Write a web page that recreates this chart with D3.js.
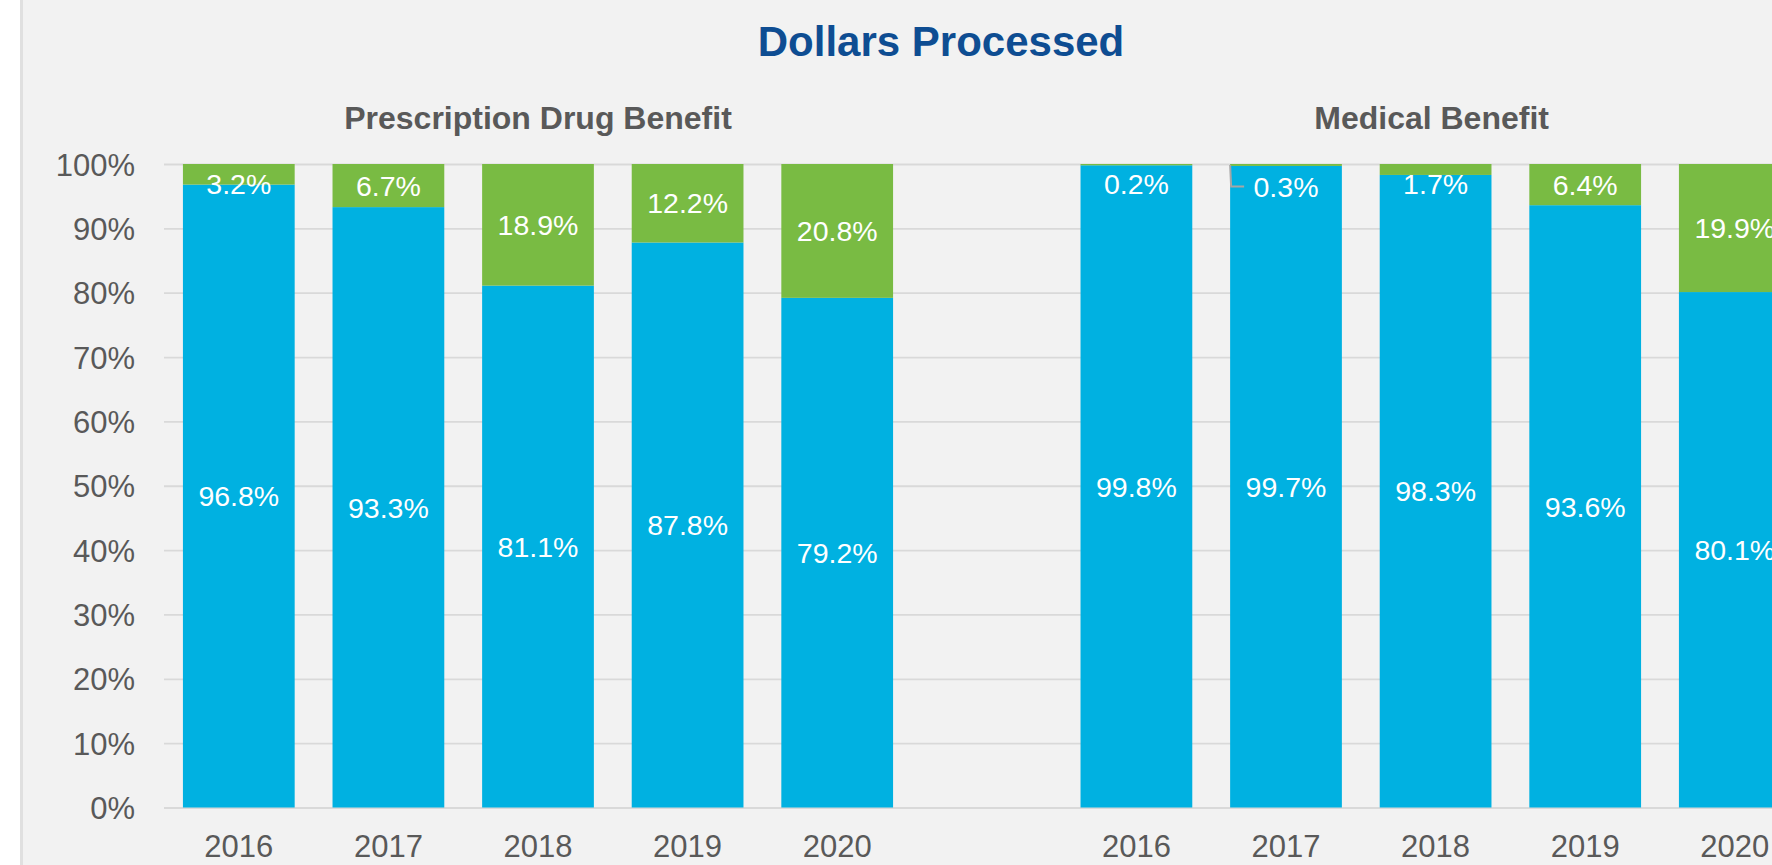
<!DOCTYPE html>
<html>
<head>
<meta charset="utf-8">
<script src="https://cdn.jsdelivr.net/npm/d3@7/dist/d3.min.js"></script>
<style>
  body { margin: 0; background: #fff; }
  text { font-family: "Liberation Sans", Arial, sans-serif; }
</style>
</head>
<body>
<div id="chart"></div>
<script>
// data
var years = ['2016', '2017', '2018', '2019', '2020'];
var groups = ['Prescription Drug Benefit', 'Medical Benefit'];
var rxBlue = [96.8, 93.3, 81.1, 87.8, 79.2];
var rxGreen = [3.2, 6.7, 18.9, 12.2, 20.8];
var medBlue = [99.8, 99.7, 98.3, 93.6, 80.1];
var medGreen = [0.2, 0.3, 1.7, 6.4, 19.9];
var yTicks = [0, 10, 20, 30, 40, 50, 60, 70, 80, 90, 100];

var width = 1772, height = 865;
var blue = '#00b1e1', green = '#79bb43', grey = '#595959';

// one row per slot, with an empty slot between the two groups
var rows = [];
years.forEach(function (yr, i) {
  rows.push({ key: 'rx' + yr, year: yr, group: 0, blue: rxBlue[i], green: rxGreen[i] });
});
rows.push({ key: 'gap', year: '', group: -1 });
years.forEach(function (yr, i) {
  rows.push({ key: 'med' + yr, year: yr, group: 1, blue: medBlue[i], green: medGreen[i] });
});
var bars = rows.filter(function (d) { return d.group >= 0; });

var svg = d3.select('#chart').append('svg')
  .attr('width', width)
  .attr('height', height);

// panel background with the thin left border
svg.append('rect').attr('x', 20).attr('y', 0).attr('width', width - 20).attr('height', height).attr('fill', '#f2f2f2');
svg.append('rect').attr('x', 20).attr('y', 0).attr('width', 3).attr('height', height).attr('fill', '#e0e0e0');

var x = d3.scaleBand()
  .domain(rows.map(function (d) { return d.key; }))
  .range([164, 164 + 11 * 149.6])
  .paddingInner(0.253)
  .paddingOuter(0.1265);

var y = d3.scaleLinear().domain([0, 100]).range([807.5, 164]);

// y axis + gridlines
var yAxis = svg.append('g')
  .attr('transform', 'translate(164,0)')
  .call(d3.axisLeft(y).tickValues(yTicks).tickFormat(function (d) { return d + '%'; })
    .tickSize(-(width - 164)).tickPadding(29));
yAxis.select('.domain').remove();
yAxis.selectAll('line').attr('stroke', '#d9d9d9').attr('stroke-width', 1.8);
yAxis.selectAll('text')
  .attr('fill', grey).attr('font-size', 31).attr('dy', '0.36em');

// x axis
var xAxis = svg.append('g')
  .attr('transform', 'translate(0,807.5)')
  .call(d3.axisBottom(x).tickFormat(function (k) {
    var r = rows.find(function (d) { return d.key === k; });
    return r.year;
  }).tickSize(0).tickPadding(27));
xAxis.select('.domain').remove();
xAxis.selectAll('text').attr('fill', grey).attr('font-size', 31);

// stacked bars
var g = svg.append('g');
g.selectAll('rect.blue').data(bars).enter().append('rect')
  .attr('class', 'blue')
  .attr('x', function (d) { return x(d.key); })
  .attr('width', x.bandwidth())
  .attr('y', function (d) { return y(d.blue); })
  .attr('height', function (d) { return y(0) - y(d.blue); })
  .attr('fill', blue);
g.selectAll('rect.green').data(bars).enter().append('rect')
  .attr('class', 'green')
  .attr('x', function (d) { return x(d.key); })
  .attr('width', x.bandwidth())
  .attr('y', function (d) { return y(d.blue + d.green); })
  .attr('height', function (d) { return y(d.blue) - y(d.blue + d.green); })
  .attr('fill', green);

// data labels
var fs = 28.5;
function labelY(mid) { return Math.max(mid, 184) + fs * 0.358; }

g.selectAll('text.bl').data(bars).enter().append('text')
  .attr('x', function (d) { return x(d.key) + x.bandwidth() / 2; })
  .attr('y', function (d) { return labelY((y(0) + y(d.blue)) / 2); })
  .attr('text-anchor', 'middle').attr('fill', '#fff').attr('font-size', fs)
  .text(function (d) { return d.blue.toFixed(1) + '%'; });

g.selectAll('text.gr').data(bars).enter().append('text')
  .attr('x', function (d) { return x(d.key) + x.bandwidth() / 2; })
  .attr('y', function (d) {
    var mid = (y(d.blue) + y(d.blue + d.green)) / 2;
    return d.key === 'med2017' ? 186.5 + fs * 0.358 : labelY(mid);
  })
  .attr('text-anchor', 'middle').attr('fill', '#fff').attr('font-size', fs)
  .text(function (d) { return d.green.toFixed(1) + '%'; });

// leader line on the tiny medical 2017 label
var lx = x('med2017');
svg.append('path')
  .attr('d', 'M' + lx + ',' + (y(100) + 1) + 'L' + (lx + 1) + ',186.5L' + (lx + 14) + ',186.5')
  .attr('fill', 'none').attr('stroke', '#a6a6a6').attr('stroke-width', 2);

// titles
svg.append('text')
  .attr('x', 941).attr('y', 56)
  .attr('text-anchor', 'middle').attr('font-size', 42).attr('font-weight', 'bold')
  .attr('fill', '#0e4d92')
  .text('Dollars Processed');

var mids = ['rx2018', 'med2018'];
svg.selectAll('text.sub').data(groups).enter().append('text')
  .attr('x', function (d, i) { return x(mids[i]) + x.bandwidth() / 2 - (i ? 4 : 0); })
  .attr('y', 129)
  .attr('text-anchor', 'middle').attr('font-size', 32).attr('font-weight', 'bold')
  .attr('fill', grey)
  .text(function (d) { return d; });
</script>
</body>
</html>
